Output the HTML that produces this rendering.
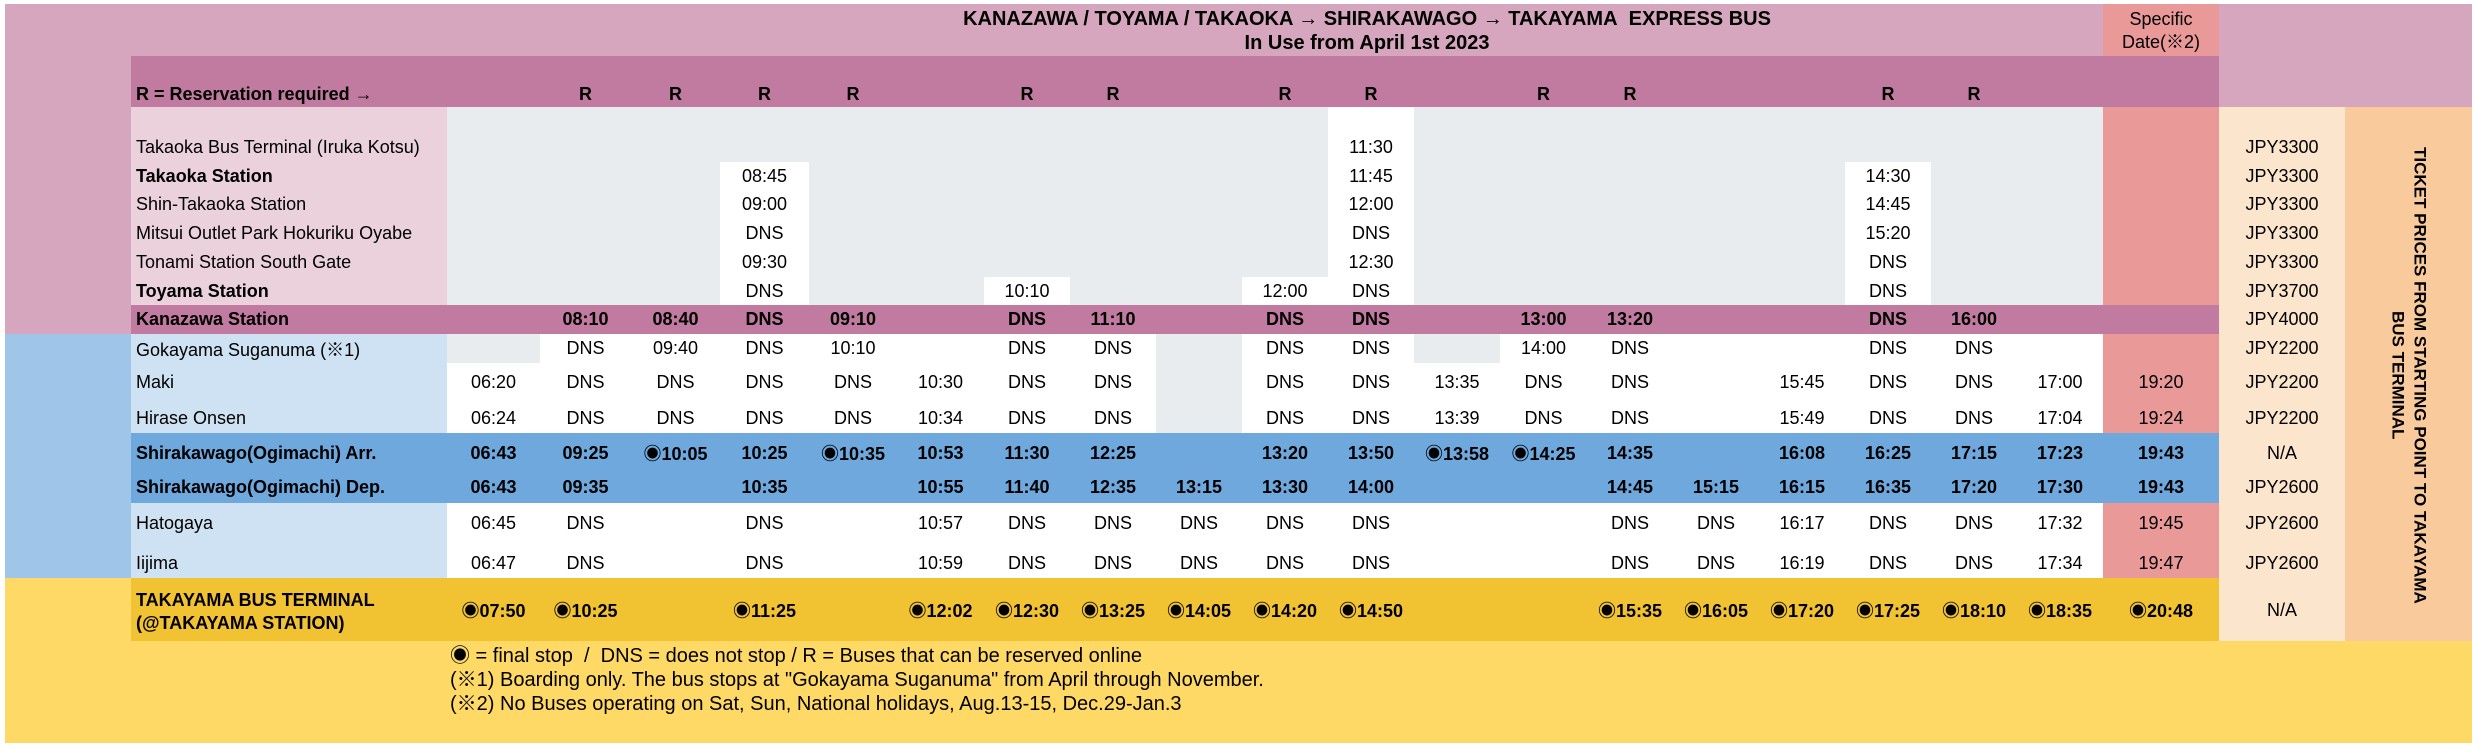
<!DOCTYPE html>
<html><head><meta charset="utf-8">
<style>
*{margin:0;padding:0;box-sizing:border-box}
body{width:2478px;height:752px;background:#fff;position:relative;overflow:hidden;font-family:"Liberation Sans","Noto Sans CJK JP",sans-serif;font-size:18px;color:#000}
.b{position:absolute}
.r{position:absolute;left:0;width:2478px}
.r span{position:absolute;top:0;height:100%;display:flex;align-items:center;justify-content:center;white-space:nowrap}
.r span.n{justify-content:flex-start;left:136px;width:320px}
.bold span{font-weight:bold}
.c0{left:447px;width:93px}.c1{left:540px;width:91px}.c2{left:631px;width:89px}.c3{left:720px;width:89px}
.c4{left:809px;width:88px}.c5{left:897px;width:87px}.c6{left:984px;width:86px}.c7{left:1070px;width:86px}
.c8{left:1156px;width:86px}.c9{left:1242px;width:86px}.c10{left:1328px;width:86px}.c11{left:1414px;width:86px}
.c12{left:1500px;width:87px}.c13{left:1587px;width:86px}.c14{left:1673px;width:86px}.c15{left:1759px;width:86px}
.c16{left:1845px;width:86px}.c17{left:1931px;width:86px}.c18{left:2017px;width:86px}
.sd{left:2103px;width:116px}.jp{left:2219px;width:126px;font-weight:normal!important}
</style></head><body>
<div class="b" style="left:5px;top:4px;width:2467px;height:103px;background:#d5a6bd"></div>
<div class="b" style="left:2103px;top:4px;width:116px;height:52px;background:#ea9999"></div>
<div class="b" style="left:131px;top:56px;width:2088px;height:51px;background:#c27ba0"></div>
<div class="b" style="left:5px;top:107px;width:126px;height:227px;background:#d5a6bd"></div>
<div class="b" style="left:131px;top:107px;width:316px;height:198px;background:#ead1dc"></div>
<div class="b" style="left:447px;top:107px;width:1656px;height:198px;background:#e9ecef"></div>
<div class="b" style="left:1328px;top:107px;width:86px;height:198px;background:#fff"></div>
<div class="b" style="left:720px;top:162px;width:89px;height:143px;background:#fff"></div>
<div class="b" style="left:1845px;top:162px;width:86px;height:143px;background:#fff"></div>
<div class="b" style="left:984px;top:277px;width:86px;height:28px;background:#fff"></div>
<div class="b" style="left:1242px;top:277px;width:86px;height:28px;background:#fff"></div>
<div class="b" style="left:2103px;top:107px;width:116px;height:198px;background:#ea9999"></div>
<div class="b" style="left:131px;top:305px;width:2088px;height:29px;background:#c27ba0"></div>
<div class="b" style="left:5px;top:334px;width:126px;height:244px;background:#9fc5e8"></div>
<div class="b" style="left:131px;top:334px;width:316px;height:244px;background:#cfe2f3"></div>
<div class="b" style="left:447px;top:334px;width:1656px;height:244px;background:#fff"></div>
<div class="b" style="left:447px;top:334px;width:93px;height:29px;background:#e9ecef"></div>
<div class="b" style="left:1414px;top:334px;width:86px;height:29px;background:#e9ecef"></div>
<div class="b" style="left:1156px;top:334px;width:86px;height:99px;background:#e9ecef"></div>
<div class="b" style="left:2103px;top:334px;width:116px;height:244px;background:#ea9999"></div>
<div class="b" style="left:131px;top:433px;width:2088px;height:70px;background:#6fa8dc"></div>
<div class="b" style="left:5px;top:578px;width:2467px;height:165px;background:#ffd966"></div>
<div class="b" style="left:131px;top:578px;width:2088px;height:63px;background:#f1c232"></div>
<div class="b" style="left:2219px;top:107px;width:126px;height:534px;background:#fce5cd"></div>
<div class="b" style="left:2345px;top:107px;width:127px;height:534px;background:#f9cb9c"></div>

<div class="b" style="left:817px;top:7px;width:1100px;text-align:center;font-weight:bold;font-size:20px;line-height:24px">KANAZAWA / TOYAMA / TAKAOKA → SHIRAKAWAGO → TAKAYAMA&nbsp; EXPRESS BUS<br>In Use from April 1st 2023</div>
<div class="b" style="left:2103px;top:8px;width:116px;text-align:center;line-height:23px">Specific<br>Date(※2)</div>

<div class="b" style="left:2345px;top:120px;width:127px;height:510px;writing-mode:vertical-rl;text-align:center;font-weight:bold;font-size:17px;line-height:22px;display:flex;align-items:center;justify-content:center">TICKET PRICES FROM STARTING POINT TO TAKAYAMA<br>BUS TERMINAL</div>

<div class="r bold" style="top:80px;height:28px"><span class="n" style="width:400px">R = Reservation required →</span>
<span class="c1">R</span><span class="c2">R</span><span class="c3">R</span><span class="c4">R</span><span class="c6">R</span><span class="c7">R</span><span class="c9">R</span><span class="c10">R</span><span class="c12">R</span><span class="c13">R</span><span class="c16">R</span><span class="c17">R</span></div>

<div class="r" style="top:133px;height:29px"><span class="n">Takaoka Bus Terminal (Iruka Kotsu)</span><span class="c10">11:30</span><span class="jp">JPY3300</span></div>
<div class="r" style="top:162px;height:28px"><span class="n" style="font-weight:bold">Takaoka Station</span><span class="c3">08:45</span><span class="c10">11:45</span><span class="c16">14:30</span><span class="jp">JPY3300</span></div>
<div class="r" style="top:190px;height:29px"><span class="n">Shin-Takaoka Station</span><span class="c3">09:00</span><span class="c10">12:00</span><span class="c16">14:45</span><span class="jp">JPY3300</span></div>
<div class="r" style="top:219px;height:29px"><span class="n">Mitsui Outlet Park Hokuriku Oyabe</span><span class="c3">DNS</span><span class="c10">DNS</span><span class="c16">15:20</span><span class="jp">JPY3300</span></div>
<div class="r" style="top:248px;height:29px"><span class="n">Tonami Station South Gate</span><span class="c3">09:30</span><span class="c10">12:30</span><span class="c16">DNS</span><span class="jp">JPY3300</span></div>
<div class="r" style="top:277px;height:28px"><span class="n" style="font-weight:bold">Toyama Station</span><span class="c3">DNS</span><span class="c6">10:10</span><span class="c9">12:00</span><span class="c10">DNS</span><span class="c16">DNS</span><span class="jp">JPY3700</span></div>
<div class="r bold" style="top:305px;height:29px"><span class="n">Kanazawa Station</span><span class="c1">08:10</span><span class="c2">08:40</span><span class="c3">DNS</span><span class="c4">09:10</span><span class="c6">DNS</span><span class="c7">11:10</span><span class="c9">DNS</span><span class="c10">DNS</span><span class="c12">13:00</span><span class="c13">13:20</span><span class="c16">DNS</span><span class="c17">16:00</span><span class="jp">JPY4000</span></div>
<div class="r" style="top:334px;height:29px"><span class="n">Gokayama Suganuma (※1)</span><span class="c1">DNS</span><span class="c2">09:40</span><span class="c3">DNS</span><span class="c4">10:10</span><span class="c6">DNS</span><span class="c7">DNS</span><span class="c9">DNS</span><span class="c10">DNS</span><span class="c12">14:00</span><span class="c13">DNS</span><span class="c16">DNS</span><span class="c17">DNS</span><span class="jp">JPY2200</span></div>
<div class="r" style="top:363px;height:38px"><span class="n">Maki</span><span class="c0">06:20</span><span class="c1">DNS</span><span class="c2">DNS</span><span class="c3">DNS</span><span class="c4">DNS</span><span class="c5">10:30</span><span class="c6">DNS</span><span class="c7">DNS</span><span class="c9">DNS</span><span class="c10">DNS</span><span class="c11">13:35</span><span class="c12">DNS</span><span class="c13">DNS</span><span class="c15">15:45</span><span class="c16">DNS</span><span class="c17">DNS</span><span class="c18">17:00</span><span class="sd">19:20</span><span class="jp">JPY2200</span></div>
<div class="r" style="top:401px;height:34px"><span class="n">Hirase Onsen</span><span class="c0">06:24</span><span class="c1">DNS</span><span class="c2">DNS</span><span class="c3">DNS</span><span class="c4">DNS</span><span class="c5">10:34</span><span class="c6">DNS</span><span class="c7">DNS</span><span class="c9">DNS</span><span class="c10">DNS</span><span class="c11">13:39</span><span class="c12">DNS</span><span class="c13">DNS</span><span class="c15">15:49</span><span class="c16">DNS</span><span class="c17">DNS</span><span class="c18">17:04</span><span class="sd">19:24</span><span class="jp">JPY2200</span></div>
<div class="r bold" style="top:435px;height:36px"><span class="n">Shirakawago(Ogimachi) Arr.</span><span class="c0">06:43</span><span class="c1">09:25</span><span class="c2">◉10:05</span><span class="c3">10:25</span><span class="c4">◉10:35</span><span class="c5">10:53</span><span class="c6">11:30</span><span class="c7">12:25</span><span class="c9">13:20</span><span class="c10">13:50</span><span class="c11">◉13:58</span><span class="c12">◉14:25</span><span class="c13">14:35</span><span class="c15">16:08</span><span class="c16">16:25</span><span class="c17">17:15</span><span class="c18">17:23</span><span class="sd">19:43</span><span class="jp">N/A</span></div>
<div class="r bold" style="top:470px;height:35px"><span class="n">Shirakawago(Ogimachi) Dep.</span><span class="c0">06:43</span><span class="c1">09:35</span><span class="c3">10:35</span><span class="c5">10:55</span><span class="c6">11:40</span><span class="c7">12:35</span><span class="c8">13:15</span><span class="c9">13:30</span><span class="c10">14:00</span><span class="c13">14:45</span><span class="c14">15:15</span><span class="c15">16:15</span><span class="c16">16:35</span><span class="c17">17:20</span><span class="c18">17:30</span><span class="sd">19:43</span><span class="jp">JPY2600</span></div>
<div class="r" style="top:503px;height:40px"><span class="n">Hatogaya</span><span class="c0">06:45</span><span class="c1">DNS</span><span class="c3">DNS</span><span class="c5">10:57</span><span class="c6">DNS</span><span class="c7">DNS</span><span class="c8">DNS</span><span class="c9">DNS</span><span class="c10">DNS</span><span class="c13">DNS</span><span class="c14">DNS</span><span class="c15">16:17</span><span class="c16">DNS</span><span class="c17">DNS</span><span class="c18">17:32</span><span class="sd">19:45</span><span class="jp">JPY2600</span></div>
<div class="r" style="top:545px;height:36px"><span class="n">Iijima</span><span class="c0">06:47</span><span class="c1">DNS</span><span class="c3">DNS</span><span class="c5">10:59</span><span class="c6">DNS</span><span class="c7">DNS</span><span class="c8">DNS</span><span class="c9">DNS</span><span class="c10">DNS</span><span class="c13">DNS</span><span class="c14">DNS</span><span class="c15">16:19</span><span class="c16">DNS</span><span class="c17">DNS</span><span class="c18">17:34</span><span class="sd">19:47</span><span class="jp">JPY2600</span></div>
<div class="r bold" style="top:578px;height:64px"><span class="n" style="line-height:23px;padding-top:4px">TAKAYAMA BUS TERMINAL<br>(@TAKAYAMA STATION)</span><span class="c0">◉07:50</span><span class="c1">◉10:25</span><span class="c3">◉11:25</span><span class="c5">◉12:02</span><span class="c6">◉12:30</span><span class="c7">◉13:25</span><span class="c8">◉14:05</span><span class="c9">◉14:20</span><span class="c10">◉14:50</span><span class="c13">◉15:35</span><span class="c14">◉16:05</span><span class="c15">◉17:20</span><span class="c16">◉17:25</span><span class="c17">◉18:10</span><span class="c18">◉18:35</span><span class="sd">◉20:48</span><span class="jp">N/A</span></div>

<div class="b" style="left:450px;top:644px;line-height:24px;font-size:20px">◉ = final stop &nbsp;/&nbsp; DNS = does not stop / R = Buses that can be reserved online<br>(※1) Boarding only. The bus stops at "Gokayama Suganuma" from April through November.<br>(※2) No Buses operating on Sat, Sun, National holidays, Aug.13-15, Dec.29-Jan.3</div>
</body></html>
